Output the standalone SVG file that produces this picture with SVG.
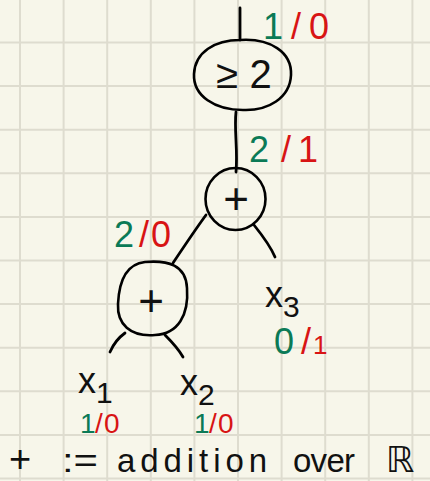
<svg xmlns="http://www.w3.org/2000/svg" width="430" height="481" viewBox="0 0 430 481">
<style>
.grid{stroke:#dedccf;stroke-width:2;fill:none}
.edge{stroke:#000;stroke-width:2.8;fill:none;stroke-linecap:round;stroke-linejoin:round}
.node{stroke:#000;stroke-width:2.6;fill:none}
.ink{font-family:"Liberation Sans","DejaVu Sans",sans-serif;fill:#111}
.g{fill:#0b7a56}
.r{fill:#d81414}
.lbl{font-family:"Liberation Sans","DejaVu Sans",sans-serif;font-size:36px}
.sm{font-family:"Liberation Sans","DejaVu Sans",sans-serif;font-size:28px}
</style>
<rect width="430" height="481" fill="#f7f6ea"/>
<path class="grid" d="M20 0V481M63.6 0V481M107.2 0V481M150.8 0V481M194.4 0V481M238 0V481M281.6 0V481M325.2 0V481M368.8 0V481M412.4 0V481M0 42.5H430M0 86.1H430M0 129.7H430M0 173.3H430M0 216.9H430M0 260.5H430M0 304.1H430M0 347.7H430M0 391.3H430M0 434.9H430M0 478.5H430"/>
<g id="edges">
<path class="edge" d="M240 8V40"/>
<path class="edge" d="M236 112C234 130 238 150 236 172"/>
<path class="edge" d="M206 215C195 230 183 248 173 263"/>
<path class="edge" d="M254 225C262 235 270 245 275 257"/>
<path class="edge" d="M125 333C118 338 113 345 110 352"/>
<path class="edge" d="M165 335C172 342 179 350 183 357"/>
</g>
<g id="n_geq2">
<path class="node" d="M240 40C270 38 292 52 291 75C290 98 268 111 243 110C215 110 193 96 194 74C195 52 215 40 240 40Z"/>
<text class="ink" x="244" y="88" font-size="40" text-anchor="middle">≥ 2</text>
</g>
<g id="n_plus1">
<ellipse class="node" cx="235.5" cy="199" rx="30" ry="31"/>
<text class="ink" x="236" y="214" font-size="44" text-anchor="middle">+</text>
</g>
<g id="n_plus2">
<path class="node" d="M145 262C168 260 186 265 187 288C189 315 178 334 155 335C130 337 117 324 118 304C119 282 126 264 145 262Z"/>
<text class="ink" x="151" y="316" font-size="44" text-anchor="middle">+</text>
</g>
<g id="n_x3">
<text class="ink" x="265" y="307" font-size="36">x<tspan font-size="30" dy="10">3</tspan></text>
</g>
<g id="n_x1">
<text class="ink" x="78" y="393" font-size="36">x<tspan font-size="30" dy="10">1</tspan></text>
</g>
<g id="n_x2">
<text class="ink" x="180" y="395" font-size="36">x<tspan font-size="30" dy="10">2</tspan></text>
</g>
<g id="labels">
<text class="lbl" y="39"><tspan class="g" x="263">1</tspan><tspan class="r" x="291">/</tspan><tspan class="r" x="309">0</tspan></text>
<text class="lbl" y="162"><tspan class="g" x="249">2</tspan><tspan class="r" x="281">/</tspan><tspan class="r" x="298">1</tspan></text>
<text class="lbl" y="247"><tspan class="g" x="114">2</tspan><tspan class="r" x="139">/</tspan><tspan class="r" x="151">0</tspan></text>
<text class="lbl" y="354"><tspan class="g" x="274">0</tspan><tspan class="r" x="301">/</tspan><tspan class="r" x="313" font-size="26">1</tspan></text>
<text class="sm" y="433"><tspan class="g" x="80">1</tspan><tspan class="r" x="95">/</tspan><tspan class="r" x="104">0</tspan></text>
<text class="sm" y="433"><tspan class="g" x="194">1</tspan><tspan class="r" x="209">/</tspan><tspan class="r" x="218">0</tspan></text>
</g>
<g id="legend">
<text class="ink" y="472" font-size="33"><tspan x="9" font-size="38">+</tspan><tspan x="62" textLength="36" lengthAdjust="spacingAndGlyphs">:=</tspan><tspan x="117" textLength="150" lengthAdjust="spacing">addition</tspan><tspan x="293" textLength="62" lengthAdjust="spacing">over</tspan><tspan x="386" font-size="36">ℝ</tspan></text>
</g>
</svg>
